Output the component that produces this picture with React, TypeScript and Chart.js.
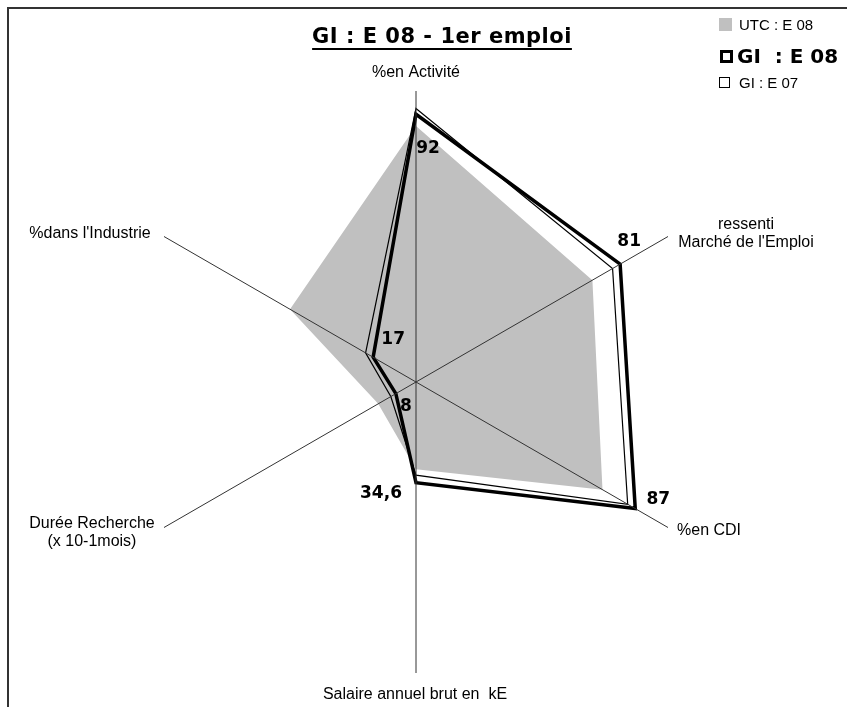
import { useEffect, useRef } from 'react';
import { Chart, registerables } from 'chart.js';

Chart.register(...registerables);

// ---- data ----
const axisLabels: (string | string[])[] = [
  '%en Activité',
  ['ressenti', "Marché de l'Emploi"],
  '%en CDI',
  'Salaire annuel brut en  kE',
  ['Durée Recherche', '(x 10-1mois)'],
  "%dans l'Industrie",
];
const utcE08 = [88, 70, 74, 30, 15, 50];
const giE08 = [92, 81, 87, 34.6, 8, 17];
const giE07 = [94, 78, 84, 32, 10, 20];
const seriesNames = ['UTC : E 08', 'GI  : E 08', 'GI : E 07'];
const titleText = 'GI : E 08 - 1er emploi';
const scaleMax = 100;

// ---- styles / placement (not data) ----
const axisLabelPlacement = [
  { dx: 0, dy: -14, align: 'center' },
  { dx: 78, dy: -8, align: 'center' },
  { dx: 9, dy: 7, align: 'left' },
  { dx: -1, dy: 26, align: 'center' },
  { dx: -72, dy: 0, align: 'center' },
  { dx: -74, dy: 1, align: 'center' },
];
const dataLabelOffsets = [
  { dx: 12, dy: 34 },
  { dx: 9, dy: -23 },
  { dx: 23, dy: -9 },
  { dx: -35, dy: 11 },
  { dx: 10, dy: 13 },
  { dx: 20, dy: -18 },
];
const GRAY = '#c0c0c0';
const SANS = '"Liberation Sans", Arial, sans-serif';
const BOLD = 'bold 17px "DejaVu Sans", sans-serif';

const decorPlugin = {
  id: 'decor',
  afterDraw(chart: any) {
    const ctx = chart.ctx as CanvasRenderingContext2D;
    const scale = chart.scales.r;
    ctx.save();

    // axis labels
    ctx.font = '16px ' + SANS;
    ctx.fillStyle = '#000';
    ctx.textBaseline = 'alphabetic';
    (chart.data.labels as (string | string[])[]).forEach((lab, i) => {
      const p = scale.getPointPositionForValue(i, scale.max);
      const pl = axisLabelPlacement[i];
      const lines = Array.isArray(lab) ? lab : [lab];
      ctx.textAlign = pl.align as CanvasTextAlign;
      lines.forEach((t, j) => ctx.fillText(t, p.x + pl.dx, p.y + pl.dy + j * 18.5));
    });

    // data labels for GI E08 (dataset 0)
    const meta = chart.getDatasetMeta(0);
    ctx.font = BOLD;
    ctx.textAlign = 'center';
    ctx.textBaseline = 'middle';
    meta.data.forEach((pt: any, i: number) => {
      const v = chart.data.datasets[0].data[i] as number;
      const o = dataLabelOffsets[i];
      ctx.fillText(String(v).replace('.', ','), pt.x + o.dx, pt.y + o.dy);
    });

    // title
    ctx.font = 'bold 21px "DejaVu Sans", sans-serif';
    (ctx as any).letterSpacing = '0.5px';
    ctx.textAlign = 'center';
    ctx.textBaseline = 'alphabetic';
    const tw = ctx.measureText(titleText).width;
    ctx.fillText(titleText, 442, 43);
    ctx.fillRect(442 - tw / 2, 48, tw, 2);
    (ctx as any).letterSpacing = '0px';

    // legend
    ctx.textAlign = 'left';
    ctx.fillStyle = GRAY;
    ctx.fillRect(719, 18, 13, 13);
    ctx.fillStyle = '#000';
    ctx.font = '15px ' + SANS;
    ctx.fillText(seriesNames[0], 739, 30);

    ctx.strokeStyle = '#000';
    ctx.lineWidth = 3;
    ctx.strokeRect(721.5, 51.5, 10, 10);
    ctx.font = 'bold 20px "DejaVu Sans", sans-serif';
    ctx.fillText(seriesNames[1], 737, 63);

    ctx.lineWidth = 1;
    ctx.strokeRect(719.5, 77.5, 10, 10);
    ctx.font = '15px ' + SANS;
    ctx.fillText(seriesNames[2], 739, 88);

    ctx.restore();
  },
};

export default function App() {
  const ref = useRef<HTMLCanvasElement | null>(null);

  useEffect(() => {
    if (!ref.current) return;
    const chart = new Chart(ref.current, {
      type: 'radar',
      data: {
        labels: axisLabels as any,
        datasets: [
          {
            label: seriesNames[1],
            data: giE08,
            borderColor: '#000',
            borderWidth: 3.5,
            backgroundColor: 'transparent',
            fill: false,
            pointRadius: 0,
            borderJoinStyle: 'miter',
            order: 0,
          },
          {
            label: seriesNames[2],
            data: giE07,
            borderColor: '#000',
            borderWidth: 1.2,
            backgroundColor: 'transparent',
            fill: false,
            pointRadius: 0,
            borderJoinStyle: 'miter',
            order: 1,
          },
          {
            label: seriesNames[0],
            data: utcE08,
            borderColor: 'rgba(0,0,0,0)',
            borderWidth: 0,
            backgroundColor: GRAY,
            fill: true,
            pointRadius: 0,
            order: 2,
          },
        ],
      },
      options: {
        animation: false,
        responsive: false,
        devicePixelRatio: 1,
        layout: { padding: { left: 125, right: 140, top: 91, bottom: 34 } },
        plugins: {
          legend: { display: false },
          title: { display: false },
          tooltip: { enabled: false },
        },
        elements: { line: { tension: 0 } },
        scales: {
          r: {
            min: 0,
            max: scaleMax,
            beginAtZero: true,
            ticks: { display: false },
            pointLabels: { display: false },
            grid: { display: false, z: 1 } as any,
            angleLines: { display: true, color: '#333', lineWidth: 1 },
          },
        },
      },
      plugins: [decorPlugin],
    });
    return () => chart.destroy();
  }, []);

  return (
    <div
      style={{
        position: 'fixed',
        left: 0,
        top: 0,
        width: 847,
        height: 707,
        overflow: 'hidden',
        background: '#fff',
      }}
    >
      <div
        style={{
          position: 'absolute',
          left: 7,
          top: 7,
          width: 1000,
          height: 1000,
          border: '2px solid #333',
        }}
      />
      <canvas
        ref={ref}
        width={847}
        height={707}
        style={{ position: 'absolute', left: 0, top: 0, display: 'block' }}
      />
    </div>
  );
}
